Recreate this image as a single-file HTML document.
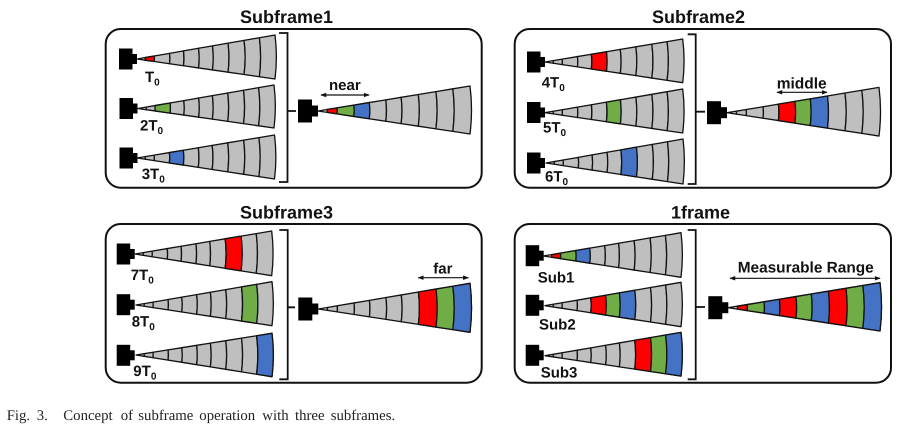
<!DOCTYPE html>
<html>
<head>
<meta charset="utf-8">
<style>
html,body{margin:0;padding:0;background:#fff;width:916px;height:435px;overflow:hidden}
svg{display:block}
text{text-rendering:geometricPrecision}
#fs path{vector-effect:non-scaling-stroke;stroke:#111;stroke-width:1.3;stroke-linejoin:round}
.t{font-family:"Liberation Sans",sans-serif;font-weight:bold;fill:#111}
.h{font-size:18px}
.l{font-size:15px}
.u{font-size:10px}
.fr{fill:none;stroke:#111;stroke-width:2}
.br{fill:none;stroke:#111;stroke-width:1.8}
.ar{fill:none;stroke:#111;stroke-width:1.2;marker-start:url(#ah);marker-end:url(#ah)}
.c{font-family:"Liberation Serif",serif;font-size:14.8px;fill:#222}
</style>
</head>
<body>
<svg width="916" height="435" viewBox="0 0 916 435" xmlns="http://www.w3.org/2000/svg">
<defs>
<marker id="ah" viewBox="0 0 8 6" refX="7" refY="3" markerWidth="6" markerHeight="5" markerUnits="userSpaceOnUse" orient="auto-start-reverse"><path d="M0,0L8,3L0,6Z" fill="#111"/></marker>
<g id="fs">
<path id="s0" d="M0,0L.06,.06Q.0612,0 .06,-.06Z"/>
<path id="s1" d="M.06,-.06Q.0612,0 .06,.06L.125,.125Q.1275,0 .125,-.125Z"/>
<path id="s2" d="M.125,-.125Q.1275,0 .125,.125L.236,.236Q.2407,0 .236,-.236Z"/>
<path id="s3" d="M.236,-.236Q.2407,0 .236,.236L.337,.337Q.3437,0 .337,-.337Z"/>
<path id="s4" d="M.337,-.337Q.3437,0 .337,.337L.446,.446Q.4549,0 .446,-.446Z"/>
<path id="s5" d="M.446,-.446Q.4549,0 .446,.446L.547,.547Q.5579,0 .547,-.547Z"/>
<path id="s6" d="M.547,-.547Q.5579,0 .547,.547L.66,.66Q.6732,0 .66,-.66Z"/>
<path id="s7" d="M.66,-.66Q.6732,0 .66,.66L.776,.776Q.7915,0 .776,-.776Z"/>
<path id="s8" d="M.776,-.776Q.7915,0 .776,.776L.887,.887Q.9047,0 .887,-.887Z"/>
<path id="s9" d="M.887,-.887Q.9047,0 .887,.887L1,1Q1.02,0 1,-1Z"/>
</g>
<g id="fan">
<use href="#s0" fill="#e8e8e8"/>
<use href="#s1" fill="#bfbfbf"/><use href="#s2" fill="#bfbfbf"/><use href="#s3" fill="#bfbfbf"/>
<use href="#s4" fill="#bfbfbf"/><use href="#s5" fill="#bfbfbf"/><use href="#s6" fill="#bfbfbf"/>
<use href="#s7" fill="#bfbfbf"/><use href="#s8" fill="#bfbfbf"/><use href="#s9" fill="#bfbfbf"/>
</g>
<g id="cam"><rect x="0" y="-10.5" width="13.5" height="21" fill="#000"/><rect x="13" y="-5" width="5" height="10" fill="#000"/></g>
<g id="bcam"><rect x="0" y="-11.5" width="14" height="23" fill="#000"/><rect x="13.5" y="-5.5" width="6.5" height="11" fill="#000"/></g>
</defs>

<g style="filter:blur(.35px)">
<!-- Subframe1 -->
<text class="t h" x="240" y="23">Subframe1</text>
<rect class="fr" x="105.7" y="29" width="376" height="158.7" rx="15"/>
<use href="#cam" x="119" y="59"/><use href="#cam" x="119.5" y="108.5"/><use href="#cam" x="119.5" y="158"/>
<g transform="matrix(138,-2,0,22,137,59)"><use href="#fan"/><use href="#s1" fill="#f00"/></g>
<g transform="matrix(136,-2,0,21.5,138,108.5)"><use href="#fan"/><use href="#s2" fill="#70ad47"/></g>
<g transform="matrix(137.5,-1,0,22,137,158)"><use href="#fan"/><use href="#s3" fill="#4472c4"/></g>
<text class="t l" x="145" y="82">T<tspan class="u" dy="3.5">0</tspan></text>
<text class="t l" x="140" y="130.7">2T<tspan class="u" dy="3.5">0</tspan></text>
<text class="t l" x="141.7" y="179">3T<tspan class="u" dy="3.5">0</tspan></text>
<path class="br" d="M279,33H287.5V182H279M288,111H296"/>
<use href="#bcam" x="298" y="111"/>
<g transform="matrix(152,-1,0,24,318,111)"><use href="#fan"/><use href="#s1" fill="#f00"/><use href="#s2" fill="#70ad47"/><use href="#s3" fill="#4472c4"/></g>
<text class="t l" x="329" y="90">near</text>
<path class="ar" d="M321,95H369"/>

<!-- Subframe2 -->
<text class="t h" x="652" y="23">Subframe2</text>
<rect class="fr" x="514.7" y="29" width="376.3" height="158.7" rx="15"/>
<use href="#cam" x="527" y="62"/><use href="#cam" x="527" y="112.5"/><use href="#cam" x="527" y="163"/>
<g transform="matrix(137.7,-1.15,0,21.85,545,62)"><use href="#fan"/><use href="#s4" fill="#f00"/></g>
<g transform="matrix(137.7,-1.7,0,22,545,112.7)"><use href="#fan"/><use href="#s5" fill="#70ad47"/></g>
<g transform="matrix(137,-1.5,0,22.5,546,163)"><use href="#fan"/><use href="#s6" fill="#4472c4"/></g>
<text class="t l" x="541.7" y="87.3">4T<tspan class="u" dy="3.5">0</tspan></text>
<text class="t l" x="543" y="132.7">5T<tspan class="u" dy="3.5">0</tspan></text>
<text class="t l" x="545" y="181.7">6T<tspan class="u" dy="3.5">0</tspan></text>
<path class="br" d="M687.7,34.3H695.7V184H687.7M696,111.7H705"/>
<use href="#bcam" x="707" y="112.7"/>
<g transform="matrix(151.7,-1,0,24.35,727.3,112.7)"><use href="#fan"/><use href="#s4" fill="#f00"/><use href="#s5" fill="#70ad47"/><use href="#s6" fill="#4472c4"/></g>
<text class="t l" x="776.7" y="88.3" style="font-size:15.5px">middle</text>
<path class="ar" d="M777,92.3H827"/>

<!-- Subframe3 -->
<text class="t h" x="240" y="218.3">Subframe3</text>
<rect class="fr" x="105.7" y="224" width="376" height="158.7" rx="15"/>
<use href="#cam" x="116.7" y="254"/><use href="#cam" x="116.7" y="304.7"/><use href="#cam" x="116.7" y="355.3"/>
<g transform="matrix(136.7,-.65,0,22.35,135,254)"><use href="#fan"/><use href="#s7" fill="#f00"/></g>
<g transform="matrix(136,-1.3,0,22,136,305)"><use href="#fan"/><use href="#s8" fill="#70ad47"/></g>
<g transform="matrix(136,0,0,21.7,136,355)"><use href="#fan"/><use href="#s9" fill="#4472c4"/></g>
<text class="t l" x="130.7" y="280">7T<tspan class="u" dy="3.5">0</tspan></text>
<text class="t l" x="131.7" y="326.7">8T<tspan class="u" dy="3.5">0</tspan></text>
<text class="t l" x="133.3" y="376">9T<tspan class="u" dy="3.5">0</tspan></text>
<path class="br" d="M279.3,230H287.7V379.3H279.3M288,307.3H295"/>
<use href="#bcam" x="298.3" y="309"/>
<g transform="matrix(151.7,-1.2,0,24.5,318.3,309)"><use href="#fan"/><use href="#s7" fill="#f00"/><use href="#s8" fill="#70ad47"/><use href="#s9" fill="#4472c4"/></g>
<text class="t l" x="433.3" y="273.3">far</text>
<path class="ar" d="M418.3,277.7H468.3"/>

<!-- 1frame -->
<text class="t h" x="671" y="218.3">1frame</text>
<rect class="fr" x="514.7" y="224" width="376.3" height="158.7" rx="15"/>
<use href="#cam" x="525.7" y="255.7"/><use href="#cam" x="525.7" y="305.3"/><use href="#cam" x="525.7" y="355.3"/>
<g transform="matrix(137.7,-1,0,22.3,543.3,256)"><use href="#fan"/><use href="#s1" fill="#f00"/><use href="#s2" fill="#70ad47"/><use href="#s3" fill="#4472c4"/></g>
<g transform="matrix(136,-1.2,0,22.2,545,305.7)"><use href="#fan"/><use href="#s4" fill="#f00"/><use href="#s5" fill="#70ad47"/><use href="#s6" fill="#4472c4"/></g>
<g transform="matrix(136,-1.5,0,21.85,545,355.7)"><use href="#fan"/><use href="#s7" fill="#f00"/><use href="#s8" fill="#70ad47"/><use href="#s9" fill="#4472c4"/></g>
<text class="t l" x="537.7" y="282.3">Sub1</text>
<text class="t l" x="539" y="329.3">Sub2</text>
<text class="t l" x="540.7" y="377.7">Sub3</text>
<path class="br" d="M687.7,230H695.7V379.3H687.7M696,307H705"/>
<use href="#bcam" x="708.3" y="307.7"/>
<g transform="matrix(151.7,-.85,0,24.15,728.3,307.7)"><use href="#fan"/><use href="#s1" fill="#f00"/><use href="#s2" fill="#70ad47"/><use href="#s3" fill="#4472c4"/><use href="#s4" fill="#f00"/><use href="#s5" fill="#70ad47"/><use href="#s6" fill="#4472c4"/><use href="#s7" fill="#f00"/><use href="#s8" fill="#70ad47"/><use href="#s9" fill="#4472c4"/></g>
<text class="t l" x="737.7" y="272.3" style="font-size:15.4px">Measurable Range</text>
<path class="ar" d="M730,278.3H880"/>

<!-- Caption -->
<text class="c" y="420"><tspan x="6.7">Fig.</tspan> <tspan x="36.7">3.</tspan> <tspan x="63.3">Concept</tspan> <tspan x="120.7">of</tspan> <tspan x="138.3">subframe</tspan> <tspan x="199.3">operation</tspan> <tspan x="262.3">with</tspan> <tspan x="295">three</tspan> <tspan x="330.7">subframes.</tspan></text>
</g>
</svg>
</body>
</html>
